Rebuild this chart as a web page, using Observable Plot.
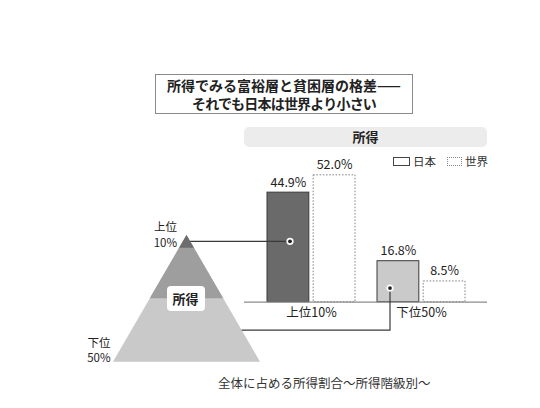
<!DOCTYPE html>
<html><head><meta charset="utf-8">
<script src="https://cdn.jsdelivr.net/npm/d3@7"></script>
<script src="https://cdn.jsdelivr.net/npm/@observablehq/plot@0.6"></script>
<style>
html,body{margin:0;padding:0;background:#fff;}
#wrap{position:relative;width:540px;height:408px;overflow:hidden;background:#fff;
  font-family:"Noto Sans CJK JP","Noto Sans",sans-serif;color:#222;}
#wrap svg{position:absolute;left:0;top:0;}
.abs{position:absolute;white-space:nowrap;}
#title{left:155px;top:74px;width:256px;height:37px;border:1px solid #8a8a8a;text-align:center;
  font-size:14px;font-weight:700;line-height:18px;padding-top:1px;box-sizing:content-box;}
#title div:nth-child(2){letter-spacing:-0.8px;}
#header{left:244px;top:127px;width:243px;height:20px;background:#ececec;border-radius:5px;
  text-align:center;font-size:13px;font-weight:700;line-height:20px;}
.lgbox{width:15px;height:7px;}
.lgtxt{font-size:11.5px;line-height:14px;color:#333;}
#caption{left:218px;top:375px;font-size:12.5px;line-height:16px;color:#333;}
#pyrlabel{width:38px;height:25px;background:#fff;border-radius:4px;text-align:center;
  line-height:25px;font-size:13px;font-weight:700;}
</style></head>
<body><div id="wrap"></div>
<script>
// ---- data ----
const groups = ["上位10%", "下位50%"];
const regions = ["日本", "世界"];
const japanShare = [44.9, 16.8];
const worldShare = [52.0, 8.5];
const pyramidBands = ["上位10%", "中間層", "下位50%"];
const pyramidCuts = [0, 10, 50, 100];
const pyramidTopLabel = "上位\n10%";
const pyramidBottomLabel = "下位\n50%";
const titleLines = ["所得でみる富裕層と貧困層の格差——", "それでも日本は世界より小さい"];
const headerLabel = "所得";
const pyramidCenterLabel = "所得";
const caption = "全体に占める所得割合〜所得階級別〜";

// ---- setup ----
const W = 540, H = 408;
const font = '"Noto Sans CJK JP","Noto Sans",sans-serif';
const wrap = document.getElementById("wrap");
const japan = groups.map((g, i) => ({group: g, region: regions[0], value: japanShare[i]}));
const world = groups.map((g, i) => ({group: g, region: regions[1], value: worldShare[i]}));
const fmt = v => v.toFixed(1) + "%";

// ---- pyramid ----
const pyrPts = [];
for (let i = pyramidBands.length - 1; i >= 0; i--) {
  for (const lv of [0, pyramidCuts[i + 1]]) pyrPts.push({band: pyramidBands[i], level: lv, left: -lv / 100, right: lv / 100});
}
const pyr = Plot.plot({
  width: W, height: H, marginLeft: 113, marginRight: 280, marginTop: 235, marginBottom: 46.3,
  style: {background: "transparent", fontFamily: font, color: "#222", overflow: "visible"},
  x: {domain: [-1, 1], axis: null},
  y: {domain: [0, 100], reverse: true, axis: null},
  color: {domain: pyramidBands, range: ["#6d6d6d", "#9e9e9e", "#c9c9c9"]},
  marks: [
    Plot.areaX(pyrPts, {y: "level", x1: "left", x2: "right", fill: "band", z: "band"}),
    Plot.text([{t: pyramidTopLabel, level: pyramidCuts[0]}], {x: d => -d.level / 100, y: "level", text: "t",
      textAnchor: "end", dx: -10, dy: -1.5, lineHeight: 1.42, fontSize: 11.5, fill: "#222"}),
    Plot.text([{t: pyramidBottomLabel, level: pyramidCuts[3]}], {x: d => -d.level / 100, y: "level", text: "t",
      textAnchor: "end", dx: -3, dy: -12.5, lineHeight: 1.32, fontSize: 11.5, fill: "#222"})
  ]
});
wrap.appendChild(pyr);

// ---- bars ----
const xs = Plot.scale({x: {type: "band", domain: groups, range: [244, 487], padding: 0.2}});
const bw = xs.bandwidth;
const half = bw / 2 + 2;
const off = bw / 4 + 1;
const bars = Plot.plot({
  width: W, height: H, marginLeft: 244, marginRight: 53, marginTop: 155.3, marginBottom: 106.3,
  style: {background: "transparent", fontFamily: font, fontSize: "12.5px", color: "#222", overflow: "visible"},
  x: {type: "band", domain: groups, padding: 0.2, tickSize: 0, tickPadding: 6, label: null},
  y: {domain: [0, 60], axis: null},
  color: {domain: groups, range: ["#6a6a6a", "#cacaca"]},
  marks: [
    Plot.barY(japan, {x: "group", y: "value", fill: "group", stroke: "#3a3a3a", strokeWidth: 1, insetRight: half}),
    Plot.barY(world, {x: "group", y: "value", fill: "white", stroke: "#858585", strokeDasharray: "1.6,1.6", strokeWidth: 1, insetLeft: half}),
    Plot.ruleY([0], {stroke: "#8c8c8c", strokeWidth: 1.2}),
    Plot.text(japan, {x: "group", y: "value", text: d => fmt(d.value), dx: -off, dy: -10, fontSize: 12.5, fill: "#222"}),
    Plot.text(world, {x: "group", y: "value", text: d => fmt(d.value), dx: off, dy: -10, fontSize: 12.5, fill: "#222"})
  ]
});
wrap.appendChild(bars);

// ---- connectors ----
const px = pyr.scale("x"), py = pyr.scale("y");
const bx = bars.scale("x"), by = bars.scale("y");
const jc = g => bx.apply(g) + bx.bandwidth / 4 - 1;
const lv1 = (pyramidCuts[0] + pyramidCuts[1]) / 2;   // middle of top band
const lv2 = (pyramidCuts[2] + pyramidCuts[3]) / 2;   // middle of bottom band
const d1 = {x: jc(groups[0]) + 2, y: py.apply(lv1)};
const d2 = {x: jc(groups[1]) - 8, y: by.apply(5.6)};
const ov = d3.create("svg").attr("width", W).attr("height", H).style("overflow", "visible");
const ln = ov.append("g").attr("fill", "none").attr("stroke", "#3a3a3a").attr("stroke-width", 1.2);
ln.append("path").attr("d", `M${px.apply(lv1 / 100)},${py.apply(lv1)}H${d1.x}`);
ln.append("path").attr("d", `M${px.apply(lv2 / 100)},${py.apply(lv2)}H${d2.x}V${d2.y}`);
for (const d of [d1, d2]) {
  ov.append("circle").attr("cx", d.x).attr("cy", d.y).attr("r", 3.6).attr("fill", "#fff");
  ov.append("circle").attr("cx", d.x).attr("cy", d.y).attr("r", 1.9).attr("fill", "#222");
}
wrap.appendChild(ov.node());

// ---- html text ----
function div(id, cls, html, css) {
  const e = document.createElement("div");
  if (id) e.id = id;
  e.className = "abs " + (cls || "");
  e.innerHTML = html;
  if (css) e.style.cssText += css;
  wrap.appendChild(e);
  return e;
}
div("title", "", titleLines.map(t => `<div>${t}</div>`).join(""));
div("header", "", headerLabel);
div(null, "lgbox", "", "left:393px;top:157px;border:1px solid #444;background:#fff;");
div(null, "lgtxt", regions[0], "left:413px;top:154px;");
div(null, "lgbox", "", "left:447px;top:157px;border:1px dotted #888;background:#fff;width:13px;");
div(null, "lgtxt", regions[1], "left:465px;top:154px;");
div("caption", "", caption);
div("pyrlabel", "", pyramidCenterLabel, `left:${px.apply(0) - 20}px;top:${py.apply(50) - 12.5}px;`);
</script>
</body></html>
